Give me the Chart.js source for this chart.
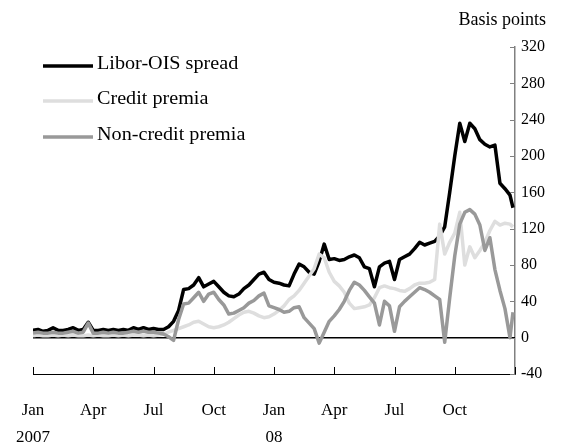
<!DOCTYPE html>
<html>
<head>
<meta charset="utf-8">
<script src="https://cdn.jsdelivr.net/npm/chart.js@4.4.1/dist/chart.umd.min.js"></script>
<style>
  html, body { margin: 0; padding: 0; background: #fff; }
  #wrap { position: relative; width: 565px; height: 447px; }
</style>
</head>
<body>
<div id="wrap"><canvas id="chart" width="565" height="447"></canvas></div>
<script>
// Weekly observations, in months since 1 Jan 2007
const months = [
  0, 0.25, 0.5, 0.75, 1, 1.25, 1.5, 1.75, 2, 2.25, 2.5, 2.75,
  3, 3.25, 3.5, 3.75, 4, 4.25, 4.5, 4.75, 5, 5.25, 5.5, 5.75,
  6, 6.25, 6.5, 6.75, 7, 7.25, 7.5, 7.75, 8, 8.25, 8.5, 8.75,
  9, 9.25, 9.5, 9.75, 10, 10.25, 10.5, 10.75, 11, 11.25, 11.5, 11.75,
  12, 12.25, 12.5, 12.75, 13, 13.25, 13.5, 13.75, 14, 14.25, 14.5, 14.75,
  15, 15.25, 15.5, 15.75, 16, 16.25, 16.5, 16.75, 17, 17.25, 17.5, 17.75,
  18, 18.25, 18.5, 18.75, 19, 19.25, 19.5, 19.75, 20, 20.25, 20.5, 20.75,
  21, 21.25, 21.5, 21.75, 22, 22.25, 22.5, 22.75, 23, 23.25, 23.5, 23.75, 23.9
];

// Basis points
const liborOis = [
  8, 9, 7, 8, 11, 8, 8, 9, 11, 8, 9, 17,
  8, 8, 9, 8, 9, 8, 9, 8, 11, 9, 11, 9,
  10, 9, 9, 12, 18, 30, 53, 54, 58, 66, 56, 59,
  62, 56, 50, 46, 45, 48, 54, 58, 64, 70, 72, 64,
  61, 60, 58, 57, 70, 81, 78, 72, 70, 84, 103, 86,
  87, 85, 86, 89, 91, 88, 78, 76, 56, 78, 82, 84,
  64, 86, 89, 92, 98, 105, 102, 104, 106, 112, 122, 160,
  200, 236, 216, 236, 230, 218, 213, 210, 212, 170, 164, 157, 143
];
const creditPremia = [
  2, 3, 2, 2, 3, 2, 3, 2, 3, 2, 2, 3,
  2, 3, 2, 2, 3, 2, 3, 2, 3, 3, 2, 3,
  2, 3, 4, 6, 8, 10, 12, 14, 17, 18, 15, 12,
  11, 12, 14, 17, 21, 25, 28, 29, 27, 24, 22, 23,
  26, 30, 35, 42, 46, 52, 60, 68, 76, 92, 88, 72,
  62, 57, 50, 38, 32, 33, 34, 36, 44, 55, 57, 55,
  54, 52, 51, 54, 58, 60, 60, 61, 64, 125, 92, 105,
  115, 138, 80, 100, 88, 96, 105, 118, 128, 124, 126, 125, 122
];
const nonCreditPremia = [
  5, 6, 5, 5, 6, 5, 5, 6, 7, 5, 6, 16,
  5, 5, 6, 5, 6, 5, 5, 6, 7, 6, 7, 6,
  6, 5, 4, 1, -3, 20, 37, 38, 44, 50, 40, 48,
  50, 42, 36, 26, 27, 30, 33, 38, 41, 46, 49, 35,
  33, 31, 28, 29, 33, 34, 22, 16, 10, -6, 6, 18,
  24, 31, 40, 52, 61, 58, 52, 45, 38, 14, 40, 35,
  7, 34, 40, 45, 50, 55, 53, 50, 46, 42, -5, 44,
  90, 125, 138, 141, 136, 124, 96, 110, 75, 52, 32, 0, 28
];

const seriesNames = ['Libor-OIS spread', 'Credit premia', 'Non-credit premia'];
const seriesColours = ['#000000', '#dedede', '#999999'];

const quarterTicks = [0, 3, 6, 9, 12, 15, 18, 21, 24];
const quarterLabels = [['Jan', '2007'], 'Apr', 'Jul', 'Oct', ['Jan', '08'], 'Apr', 'Jul', 'Oct', ''];

const serif = "'Liberation Serif', 'Times New Roman', serif";

function points(values) {
  return months.map((m, i) => ({ x: m, y: values[i] }));
}

// zero line, inward tick marks, unit label and legend
const decor = {
  id: 'decor',
  beforeDatasetsDraw(chart) {
    const { ctx, chartArea, scales: { y } } = chart;
    const y0 = y.getPixelForValue(0);
    ctx.save();
    ctx.strokeStyle = '#000';
    ctx.lineWidth = 1.5;
    ctx.beginPath();
    ctx.moveTo(chartArea.left, y0);
    ctx.lineTo(chartArea.right, y0);
    ctx.stroke();
    ctx.restore();
  },
  afterDraw(chart) {
    const { ctx, chartArea, scales: { x, y } } = chart;
    ctx.save();
    // x ticks point up
    ctx.strokeStyle = '#000';
    ctx.lineWidth = 1;
    quarterTicks.forEach(v => {
      const px = Math.round(x.getPixelForValue(v)) + 0.5;
      ctx.beginPath();
      ctx.moveTo(px, chartArea.bottom);
      ctx.lineTo(px, chartArea.bottom - 7);
      ctx.stroke();
    });
    // y ticks point left
    ctx.strokeStyle = '#808080';
    y.ticks.forEach(t => {
      const py = Math.round(y.getPixelForValue(t.value)) + 0.5;
      ctx.beginPath();
      ctx.moveTo(chartArea.right, py);
      ctx.lineTo(chartArea.right - 5, py);
      ctx.stroke();
    });

    ctx.fillStyle = '#000';
    ctx.font = '18px ' + serif;
    ctx.textAlign = 'right';
    ctx.textBaseline = 'middle';
    ctx.fillText('Basis points', 546, 20);

    // legend (text a little stretched, as in the source)
    const rows = [66, 101, 137];
    ctx.textAlign = 'left';
    seriesNames.forEach((name, i) => {
      ctx.strokeStyle = seriesColours[i];
      ctx.lineWidth = 3.5;
      ctx.beginPath();
      ctx.moveTo(43, rows[i]);
      ctx.lineTo(93, rows[i]);
      ctx.stroke();
      ctx.save();
      ctx.translate(97, rows[i] - 2);
      ctx.scale(1.12, 1);
      ctx.fillText(name, 0, 0);
      ctx.restore();
    });
    ctx.restore();
  }
};

new Chart(document.getElementById('chart'), {
  type: 'line',
  data: {
    datasets: [
      { label: seriesNames[2], data: points(nonCreditPremia), borderColor: seriesColours[2], borderWidth: 3.5 },
      { label: seriesNames[1], data: points(creditPremia), borderColor: seriesColours[1], borderWidth: 3.5 },
      { label: seriesNames[0], data: points(liborOis), borderColor: seriesColours[0], borderWidth: 3.5 }
    ]
  },
  options: {
    responsive: false,
    animation: false,
    elements: { point: { radius: 0 }, line: { tension: 0, borderJoinStyle: 'round' } },
    layout: { padding: { top: 47, left: 33, right: 0, bottom: 0 } },
    plugins: { legend: { display: false }, tooltip: { enabled: false } },
    scales: {
      x: {
        type: 'linear',
        min: 0,
        max: 24,
        afterBuildTicks: s => { s.ticks = quarterTicks.map(v => ({ value: v })); },
        afterFit: s => { s.height = 73; s.paddingLeft = 0; s.paddingRight = 0; },
        ticks: {
          autoSkip: false,
          maxRotation: 0,
          padding: 23,
          color: '#000',
          font: { family: serif, size: 17, lineHeight: 1.6 },
          callback: (v, i) => quarterLabels[i]
        },
        grid: { display: false, drawTicks: false },
        border: { display: true, color: '#000', width: 1 }
      },
      y: {
        position: 'right',
        min: -40,
        max: 320,
        afterFit: s => { s.width = 50; s.paddingTop = 0; s.paddingBottom = 0; },
        ticks: { stepSize: 40, padding: 6, color: '#000', font: { family: serif, size: 16 } },
        grid: { display: false, drawTicks: false },
        border: { display: true, color: '#808080', width: 1.5 }
      }
    }
  },
  plugins: [decor]
});
</script>
</body>
</html>
